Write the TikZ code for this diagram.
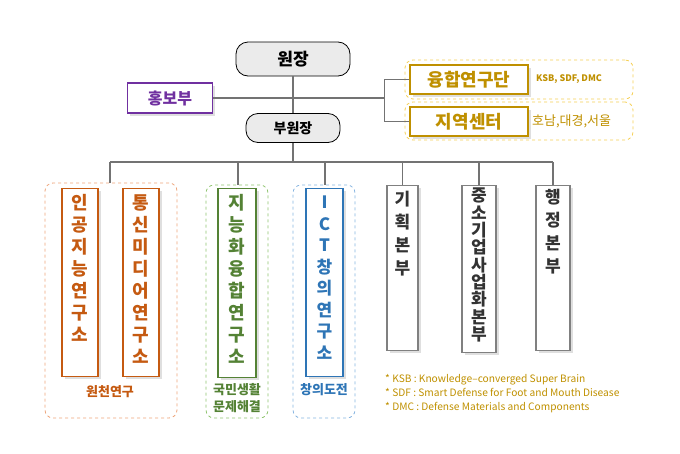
\documentclass[tikz,border=0pt]{standalone}
\usepackage{fontspec}
\setmainfont{Noto Sans CJK KR}
\usetikzlibrary{positioning,shadows}
\definecolor{orgC}{HTML}{C55A11}
\definecolor{orgL}{HTML}{EDA47A}
\definecolor{grnC}{HTML}{548235}
\definecolor{grnL}{HTML}{8FC46E}
\definecolor{bluC}{HTML}{2E75B6}
\definecolor{bluL}{HTML}{86B4E0}
\definecolor{purC}{HTML}{7030A0}
\definecolor{gldC}{HTML}{BF9000}
\definecolor{gldL}{HTML}{F5CF55}
\tikzset
{
    headbox/.style  = {rectangle, rounded corners=12pt, draw=black, thick, fill=black!8, font=\bfseries, align=center},
    unitbox/.style  = {rectangle, draw=#1, very thick, fill=white, font=\bfseries, align=center, drop shadow={opacity=0.25}},
    labbox/.style   = {rectangle, draw=#1, dashed, thick, rounded corners=8pt},
    vtext/.style    = {anchor=north, align=center, font=\bfseries\fontsize{18}{22}\selectfont, inner sep=0pt},
    link/.style     = {draw=black!55, line width=1.4pt}
}
\begin{document}
\begin{tikzpicture}[x=1pt,y=-1pt]
    \useasboundingbox (0,0) rectangle (680,453);
    % top
    \node (head)  [headbox, minimum width=114pt, minimum height=34pt, font=\bfseries\fontsize{17}{18}\selectfont] at (293,59) {원장};
    \node (vice)  [headbox, minimum width=94pt, minimum height=29pt, font=\bfseries\fontsize{14}{16}\selectfont] at (293,128) {부원장};
    \node (pr)    [unitbox=purC, text=purC, minimum width=85pt, minimum height=30pt, font=\bfseries\fontsize{16}{16}\selectfont] at (170,98) {홍보부};
    % research groups
    \node (fuseo) [labbox=gldL, minimum width=228pt, minimum height=39pt] at (519,79.5) {};
    \node (regio) [labbox=gldL, minimum width=228pt, minimum height=38pt] at (519,121) {};
    \node (fuse)  [unitbox=gldC, text=gldC, minimum width=118pt, minimum height=29pt, font=\bfseries\fontsize{18}{18}\selectfont] at (469,79.5) {융합연구단};
    \node (reg)   [unitbox=gldC, text=gldC, minimum width=118pt, minimum height=29pt, font=\bfseries\fontsize{18}{18}\selectfont] at (469,121.5) {지역센터};
    \node (fusen) [text=gldC, font=\bfseries\fontsize{9}{10}\selectfont, right=4pt of fuse] {KSB, SDF, DMC};
    \node (regn)  [text=gldC, font=\fontsize{13}{13}\selectfont, right=0pt of reg] {호남,대경,서울};
    \coordinate (fork) at (385,98);
    \draw[link] (head) -- (vice);
    \draw[link] (pr) -- (fork);
    \draw[link] (fuse.west) -- ++(-25,0) |- (reg.west);
    % lower groups
    \node (orgG) [labbox=orgL, minimum width=132pt, minimum height=235pt] at (111,300.5) {};
    \node (grnG) [labbox=grnL, minimum width=62pt, minimum height=233pt] at (237,301.5) {};
    \node (bluG) [labbox=bluL, minimum width=62pt, minimum height=233pt] at (324,301.5) {};
    \node (ai)   [unitbox=orgC, minimum width=36pt, minimum height=188pt, anchor=north] at (80,188) {};
    \node (cm)   [unitbox=orgC, minimum width=36pt, minimum height=188pt, anchor=north] at (141,188) {};
    \node (ic)   [unitbox=grnC, minimum width=38pt, minimum height=189pt, anchor=north] at (237,188) {};
    \node (ict)  [unitbox=bluC, minimum width=37pt, minimum height=188pt, anchor=north] at (324.5,188) {};
    \node (plan) [unitbox=black!50, minimum width=31pt, minimum height=165pt, anchor=north] at (402.5,185) {};
    \node (sme)  [unitbox=black!50, minimum width=34pt, minimum height=167pt, anchor=north] at (479,185) {};
    \node (adm)  [unitbox=black!50, minimum width=34pt, minimum height=165pt, anchor=north] at (553,185) {};
    \node (aiT)  [vtext, text=orgC] at ([yshift=-6pt]ai.north) {인\\공\\지\\능\\연\\구\\소};
    \node (cmT)  [vtext, text=orgC] at ([yshift=-6pt]cm.north) {통\\신\\미\\디\\어\\연\\구\\소};
    \node (icT)  [vtext, text=grnC] at ([yshift=-6pt]ic.north) {지\\능\\화\\융\\합\\연\\구\\소};
    \node (ictT) [vtext, text=bluC, font=\bfseries\fontsize{17}{21.5}\selectfont] at ([yshift=-8pt]ict.north) {I\\C\\T\\창\\의\\연\\구\\소};
    \node (planT)[vtext, text=black!80, font=\bfseries\fontsize{17}{23}\selectfont] at ([yshift=-6pt]plan.north) {기\\획\\본\\부};
    \node (smeT) [vtext, text=black!80, font=\bfseries\fontsize{17}{17.3}\selectfont] at ([yshift=-3pt]sme.north) {중\\소\\기\\업\\사\\업\\화\\본\\부};
    \node (admT) [vtext, text=black!80, font=\bfseries\fontsize{17}{23}\selectfont] at ([yshift=-4pt]adm.north) {행\\정\\본\\부};
    \node (orgN) [text=orgC, font=\bfseries\fontsize{13}{13}\selectfont] at (110,392) {원천연구};
    \node (grnN) [text=grnC, font=\bfseries\fontsize{13}{17}\selectfont, align=center] at (237,398) {국민생활\\문제해결};
    \node (bluN) [text=bluC, font=\bfseries\fontsize{13}{13}\selectfont] at (324,390) {창의도전};
    % bus
    \coordinate (busL) at (110,162);
    \coordinate (busR) at (553,162);
    \draw[link] (vice.south) -- (vice.south |- busL);
    \draw[link] (busL) -- (busR);
    \draw[link] (busL) -- (orgG.north -| busL);
    \draw[link] (238,162) -- (grnG.north -| 238,0);
    \draw[link] (325,162) -- (bluG.north -| 325,0);
    \draw[link] (plan.north |- busL) -- (plan.north);
    \draw[link] (sme.north |- busL) -- (sme.north);
    \draw[link] (busR) -- (adm.north);
    % notes
    \node (notes) [anchor=north west, text=gldC, align=left, font=\fontsize{10.2}{14}\selectfont, inner sep=0pt] at (385,374)
        {* KSB : Knowledge--converged Super Brain\\* SDF : Smart Defense for Foot and Mouth Disease\\* DMC : Defense Materials and Components};
\end{tikzpicture}
\end{document}
